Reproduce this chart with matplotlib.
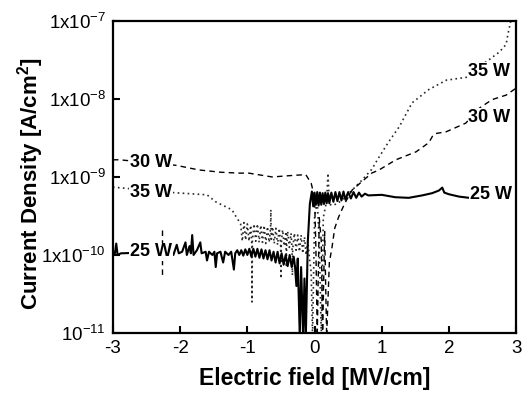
import numpy as np
import matplotlib
matplotlib.use("Agg")
import matplotlib.pyplot as plt
from matplotlib.ticker import FixedLocator, FixedFormatter

# 25 W sweep (solid)
x_25 = [-3.0, -2.97, -2.95, -2.93, -2.88, -2.15, -2.1, -2.05, -2.02, -1.97,
        -1.92, -1.9, -1.86, -1.84, -1.82, -1.8, -1.75, -1.7, -1.68, -1.62,
        -1.6, -1.57, -1.52, -1.49, -1.47, -1.45, -1.4, -1.36, -1.33, -1.28,
        -1.24, -1.2, -1.18, -1.15, -1.12, -1.09, -1.06, -1.03, -1.0, -0.97,
        -0.94, -0.91, -0.88, -0.85, -0.82, -0.79, -0.76, -0.73, -0.7, -0.67,
        -0.64, -0.61, -0.58, -0.55, -0.52, -0.49, -0.46, -0.43, -0.4, -0.37,
        -0.34, -0.31, -0.29, -0.27, -0.25, -0.22, -0.2, -0.17, -0.15, -0.13,
        -0.1, -0.07, -0.04, -0.02, 0.0, 0.02, 0.04, 0.06, 0.08, 0.1,
        0.12, 0.14, 0.16, 0.18, 0.2, 0.22, 0.25, 0.28, 0.31, 0.34,
        0.37, 0.4, 0.43, 0.46, 0.5, 0.54, 0.58, 0.62, 0.66, 0.7,
        0.75, 0.8, 1.0, 1.2, 1.4, 1.6, 1.75, 1.85, 1.9, 1.93,
        2.0, 2.15, 2.3]
y_25 = [1.05e-10, 1.05e-10, 1.4e-10, 1.0e-10, 1.05e-10, 1.1e-10, 1.0e-10, 1.35e-10, 1.05e-10, 1.1e-10,
        1.45e-10, 1.0e-10, 1.3e-10, 1.05e-10, 1.8e-10, 1.0e-10, 1.15e-10, 1.45e-10, 1.05e-10, 1.1e-10,
        0.85e-10, 1.1e-10, 1.0e-10, 1.1e-10, 0.7e-10, 1.05e-10, 1.1e-10, 0.8e-10, 1.1e-10, 1.0e-10,
        1.1e-10, 0.65e-10, 1.05e-10, 1.15e-10, 1.0e-10, 1.15e-10, 0.98e-10, 1.18e-10, 1.0e-10, 1.2e-10,
        0.95e-10, 1.2e-10, 0.95e-10, 1.2e-10, 0.92e-10, 1.18e-10, 0.9e-10, 1.15e-10, 0.88e-10, 1.15e-10,
        0.85e-10, 1.1e-10, 0.8e-10, 1.1e-10, 0.78e-10, 1.05e-10, 0.75e-10, 1.0e-10, 0.72e-10, 1.0e-10,
        0.7e-10, 0.95e-10, 0.7e-10, 4e-11, 9e-11, 9e-12, 7e-11, 9e-12, 5e-11, 9e-12,
        1.5e-10, 4.5e-10, 6.5e-10, 4.2e-10, 6.3e-10, 4.4e-10, 6.4e-10, 4.3e-10, 6.3e-10, 4.4e-10,
        6.2e-10, 4.5e-10, 6.3e-10, 4.6e-10, 6.2e-10, 4.6e-10, 6.3e-10, 4.8e-10, 6.4e-10, 4.9e-10,
        6.4e-10, 5.0e-10, 6.5e-10, 5.1e-10, 6.4e-10, 5.3e-10, 6.4e-10, 5.4e-10, 6.3e-10, 5.6e-10,
        6.1e-10, 5.8e-10, 5.9e-10, 5.5e-10, 5.4e-10, 5.8e-10, 6.2e-10, 6.7e-10, 7.3e-10, 6.3e-10,
        6.0e-10, 5.6e-10, 5.4e-10]

# 30 W sweep (dashed)
x_30 = [-3.0, -2.9, -2.06, -1.72, -1.4, -1.12, -0.98, -0.63, -0.3, -0.13,
        -0.05, 0.0, 0.02, 0.04, 0.07, 0.1, 0.12, 0.15, 0.18, 0.22,
        0.26, 0.3, 0.36, 0.45, 0.56, 0.85, 0.96, 1.21, 1.51, 1.7,
        1.76, 1.8, 1.96, 2.25, 2.45, 2.64, 2.85, 3.0]
y_30 = [1.66e-9, 1.66e-9, 1.41e-9, 1.23e-9, 1.15e-9, 1.12e-9, 1.12e-9, 1.0e-9, 1.05e-9, 1.07e-9,
        8.3e-10, 5.5e-10, 1.2e-10, 9e-12, 3e-10, 1.5e-10, 9e-12, 2e-10, 9e-12, 8e-11,
        1.26e-10, 2.2e-10, 3.1e-10, 4.6e-10, 6.8e-10, 1.12e-9, 1.23e-9, 1.66e-9, 2.1e-9, 2.75e-9,
        3.4e-9, 3.6e-9, 3.8e-9, 4.9e-9, 7.6e-9, 9.8e-9, 1.12e-8, 1.38e-8]

# 35 W sweep (dotted)
x_35 = [-3.0, -2.1, -1.6, -1.47, -1.23,
        -1.1, -1.075, -1.05, -1.025, -1.0, -0.975, -0.95, -0.935, -0.93, -0.925,
        -0.9, -0.875, -0.85, -0.825, -0.8, -0.775, -0.75, -0.725, -0.7, -0.675,
        -0.655, -0.65, -0.645, -0.625, -0.6, -0.575, -0.55, -0.525, -0.505, -0.5,
        -0.495, -0.475, -0.45, -0.425, -0.42, -0.415, -0.4, -0.375, -0.35, -0.335,
        -0.33, -0.325, -0.3, -0.275, -0.25, -0.225, -0.2, -0.175, -0.15, -0.125,
        -0.1, -0.075, -0.05, -0.03,
        0.0, 0.04, 0.07, 0.1, 0.13, 0.18, 0.2, 0.22, 0.26, 0.35,
        0.45, 0.56, 0.7, 0.85, 0.96, 1.1, 1.26, 1.45, 1.7, 1.96,
        2.27, 2.4, 2.6, 2.75, 2.85, 2.88, 2.92, 2.95]
y_35 = [7.4e-10, 6.3e-10, 5.9e-10, 4.8e-10, 3.8e-10,
        2.5e-10, 1.5e-10, 2.6e-10, 1.55e-10, 2.5e-10, 1.5e-10, 2.4e-10, 1.5e-10, 2.5e-11, 1.5e-10,
        2.5e-10, 1.5e-10, 2.5e-10, 1.45e-10, 2.4e-10, 1.45e-10, 2.4e-10, 1.4e-10, 2.3e-10, 1.45e-10,
        2.2e-10, 3.8e-10, 1.5e-10, 2.3e-10, 1.4e-10, 2.2e-10, 1.35e-10, 2.2e-10, 1.4e-10, 5e-11,
        1.4e-10, 2.1e-10, 1.3e-10, 2.0e-10, 7e-11, 1.3e-10, 2.0e-10, 1.25e-10, 1.9e-10, 1.2e-10,
        5.5e-11, 1.2e-10, 1.9e-10, 1.15e-10, 1.8e-10, 1.1e-10, 1.8e-10, 1.05e-10, 1.7e-10, 1.0e-10,
        1.5e-10, 9e-11, 6e-11, 9e-12,
        3e-10, 5e-10, 1.5e-10, 9e-12, 3e-10, 5e-10, 1.12e-9, 4.5e-10, 4.3e-10, 4.6e-10,
        5.5e-10, 6.8e-10, 9e-10, 1.25e-9, 1.8e-9, 2.8e-9, 4.4e-9, 8.9e-9, 1.32e-8, 1.74e-8,
        1.9e-8, 2.4e-8, 3.2e-8, 4e-8, 5e-8, 7e-8, 1e-7, 1.2e-7]

# short vertical dashed mark near the left 25 W label
mark_x = [-2.27, -2.27]
mark_y = [2.1e-10, 5.5e-11]

ytick_vals = [1e-11, 1e-10, 1e-9, 1e-8, 1e-7]
ytick_labels = [r"10$^{-11}$", r"1x10$^{-10}$", r"1x10$^{-9}$", r"1x10$^{-8}$", r"1x10$^{-7}$"]
xtick_vals = [-3, -2, -1, 0, 1, 2, 3]

labels_left = [("30 W", -2.43, 1.55e-9), ("35 W", -2.43, 6.3e-10), ("25 W", -2.43, 1.1e-10)]
labels_right = [("35 W", 2.6, 2.24e-8), ("30 W", 2.6, 5.75e-9), ("25 W", 2.62, 5.9e-10)]


def main():
    plt.rcParams["font.family"] = ["Liberation Sans", "DejaVu Sans"]
    plt.rcParams["mathtext.fontset"] = "custom"
    plt.rcParams["mathtext.rm"] = "Liberation Sans"
    plt.rcParams["mathtext.bf"] = "Liberation Sans:bold"
    plt.rcParams["mathtext.default"] = "regular"

    fig = plt.figure(figsize=(5.3, 3.95), dpi=100)
    ax = fig.add_axes([0.213, 0.157, 0.761, 0.79])

    ax.plot(x_35, y_35, color="#2a2a2a", lw=1.2, linestyle=(0, (1, 2)))
    ax.plot(x_30, y_30, color="black", lw=1.0, linestyle=(0, (4, 3)))
    ax.plot(mark_x, mark_y, color="black", lw=1.0, linestyle=(0, (4, 3)))
    ax.plot(x_25, y_25, color="black", lw=1.5)

    for txt, x, y in labels_left + labels_right:
        ax.text(x, y, txt, fontsize=13, fontweight="bold", ha="center", va="center",
                bbox=dict(facecolor="white", edgecolor="none", pad=0.5))

    ax.set_yscale("log")
    ax.set_xlim(-3, 3)
    ax.set_ylim(1e-11, 1e-7)
    ax.yaxis.set_major_locator(FixedLocator(ytick_vals))
    ax.yaxis.set_major_formatter(FixedFormatter(ytick_labels))
    ax.yaxis.set_minor_locator(FixedLocator([]))
    ax.set_xticks(xtick_vals)
    ax.set_xticklabels([str(v) for v in xtick_vals])

    ax.tick_params(direction="in", length=5, width=1.5, labelsize=13.5, pad=5)
    for s in ax.spines.values():
        s.set_linewidth(1.6)

    ax.set_xlabel("Electric field [MV/cm]", fontsize=16.5, fontweight="bold", labelpad=7)
    ax.set_ylabel(r"Current Density [A/cm$^{\mathbf{2}}$]", fontsize=16,
                  fontweight="bold")
    ax.yaxis.set_label_coords(-0.167, 0.478)

    fig.savefig("out.png", dpi=100)


if __name__ == "__main__":
    main()
